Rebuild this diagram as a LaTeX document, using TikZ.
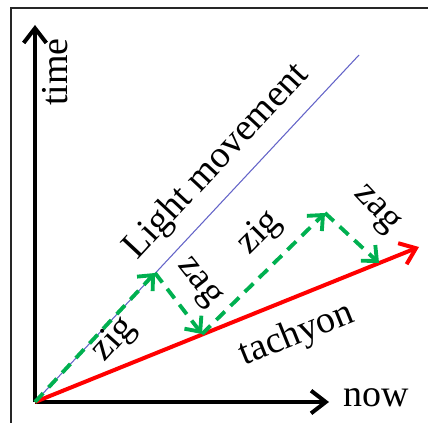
\documentclass[tikz,border=0pt]{standalone}
\usepackage{fontspec}
\setmainfont{Liberation Serif}
\usetikzlibrary{arrows.meta}
\definecolor{zgreen}{RGB}{0,176,80}
\definecolor{lightline}{RGB}{100,100,200}
\begin{document}
\begin{tikzpicture}[x=0.75pt,y=-0.75pt,
  axis/.style={line width=3pt,-{Straight Barb[length=11pt,width=17pt,line width=3pt]}},
  tach/.style={red,line width=3pt,-{Straight Barb[length=11pt,width=17pt,line width=3pt]}},
  zz/.style={zgreen,line width=2.9pt,dash pattern=on 9pt off 6pt,-{Straight Barb[length=9pt,width=16pt,line width=2.9pt]}},
  lbl/.style={font=\fontsize{28.5}{31}\selectfont,inner sep=0pt}]
\useasboundingbox (0,0) rectangle (428,423);
\begin{scope}
\clip (0,0) rectangle (428,423);
\draw[line width=1.4pt,black!85] (11,8) rectangle (460,460);
\end{scope}
\coordinate (O) at (35,402);
\coordinate (T) at (35,25);
\coordinate (N) at (329,402);
\coordinate (L) at (359,55);
\coordinate (R) at (419,247);
\coordinate (Z1) at (155,273);
\coordinate (Z2) at (202,334);
\coordinate (Z3) at (325,213);
\coordinate (Z4) at (379,263);
\draw[lightline,line width=0.8pt] (O) -- (L);
\draw[axis] (O) -- (T);
\draw[axis] (O) -- (N);
\draw[tach] (O) -- (R);
\draw[zz] (O) -- (Z1);
\draw[zz] (Z1) -- (Z2);
\draw[zz] (Z2) -- (Z3);
\draw[zz] (Z3) -- (Z4);
\node[lbl,rotate=90] (tl) at (55,72) {time};
\node[lbl] (nl) at (376,398) {now};
\node[lbl,rotate=47] (ll) at (217,162) {Light movement};
\node[lbl,rotate=48] (zg1) at (114,340) {zig};
\node[lbl,rotate=-52] (za1) at (198,283) {zag};
\node[lbl,rotate=45] (zg2) at (260,233) {zig};
\node[lbl,rotate=-47] (za2) at (376,210) {zag};
\node[lbl,rotate=22] (tc) at (297,335) {tachyon};
\end{tikzpicture}
\end{document}
